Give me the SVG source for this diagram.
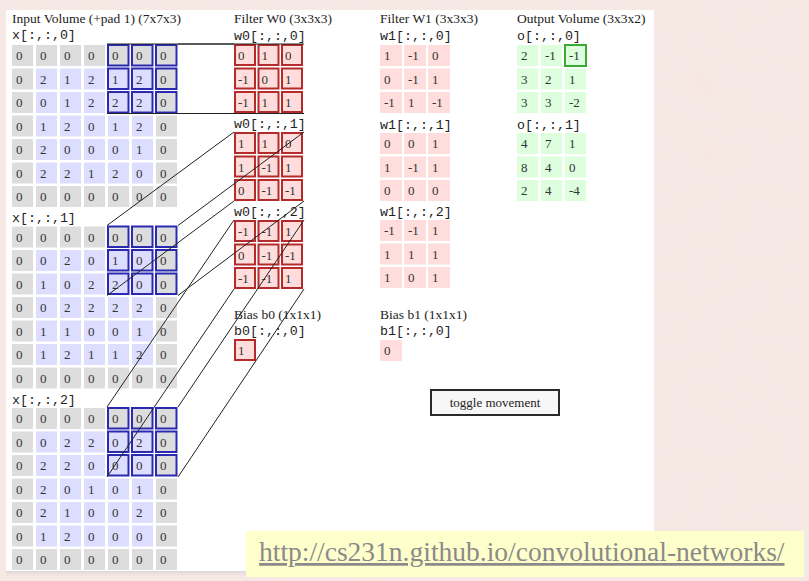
<svg xmlns="http://www.w3.org/2000/svg" width="809" height="581" viewBox="0 0 809 581">
<defs>
<filter id="tex" x="0" y="0" width="100%" height="100%">
<feTurbulence type="fractalNoise" baseFrequency="0.015" numOctaves="3" seed="7"/>
<feColorMatrix type="matrix" values="0 0 0 0 0.91  0 0 0 0 0.78  0 0 0 0 0.74  0.7 0 0 0 -0.22"/>
</filter>
<linearGradient id="shade" x1="0" y1="0" x2="0" y2="1">
<stop offset="0" stop-color="#d9d3d2" stop-opacity="0.8"/>
<stop offset="1" stop-color="#d9d3d2" stop-opacity="0"/>
</linearGradient>
</defs>
<style>
.p{fill:#dddddd}
.i{fill:#ddddff}
.f{fill:#ffdddd}
.o{fill:#ddffdd}
.fr{fill:#ffdddd;stroke:#b52a2a;stroke-width:2}
.hb{fill:none;stroke:#2a2ab0;stroke-width:2}
.hg{fill:none;stroke:#3aaa32;stroke-width:2}
text{font-family:"Liberation Serif","Times New Roman",serif}
.n{font-size:13px;fill:#333}
.t{font-size:13.5px;fill:#222}
.m{font-family:"Liberation Mono","Courier New",monospace;font-size:13.3px;fill:#222}
.c{stroke:#222;stroke-width:1;fill:none}
</style>
<rect width="809" height="581" fill="#f6e9e5"/>
<rect width="809" height="581" filter="url(#tex)"/>
<rect x="6" y="571" width="648" height="5" fill="url(#shade)"/>
<rect x="6" y="10" width="648" height="561" fill="#ffffff"/>

<g id="titles">
<text class="t" x="12" y="23">Input Volume (+pad 1) (7x7x3)</text>
<text class="t" x="234" y="23">Filter W0 (3x3x3)</text>
<text class="t" x="380" y="23">Filter W1 (3x3x3)</text>
<text class="t" x="517" y="23">Output Volume (3x3x2)</text>
</g>

<g id="input-x0">
<text class="m" x="12" y="39">x[:,:,0]</text>
<g transform="translate(12,45)">
<rect class="p" x="0" y="0" width="21" height="21"/><rect class="p" x="24" y="0" width="21" height="21"/><rect class="p" x="48" y="0" width="21" height="21"/><rect class="p" x="72" y="0" width="21" height="21"/><rect class="p" x="96" y="0" width="21" height="21"/><rect class="p" x="120" y="0" width="21" height="21"/><rect class="p" x="144" y="0" width="21" height="21"/>
<rect class="p" x="0" y="23.5" width="21" height="21"/><rect class="i" x="24" y="23.5" width="21" height="21"/><rect class="i" x="48" y="23.5" width="21" height="21"/><rect class="i" x="72" y="23.5" width="21" height="21"/><rect class="i" x="96" y="23.5" width="21" height="21"/><rect class="i" x="120" y="23.5" width="21" height="21"/><rect class="p" x="144" y="23.5" width="21" height="21"/>
<rect class="p" x="0" y="47" width="21" height="21"/><rect class="i" x="24" y="47" width="21" height="21"/><rect class="i" x="48" y="47" width="21" height="21"/><rect class="i" x="72" y="47" width="21" height="21"/><rect class="i" x="96" y="47" width="21" height="21"/><rect class="i" x="120" y="47" width="21" height="21"/><rect class="p" x="144" y="47" width="21" height="21"/>
<rect class="p" x="0" y="70.5" width="21" height="21"/><rect class="i" x="24" y="70.5" width="21" height="21"/><rect class="i" x="48" y="70.5" width="21" height="21"/><rect class="i" x="72" y="70.5" width="21" height="21"/><rect class="i" x="96" y="70.5" width="21" height="21"/><rect class="i" x="120" y="70.5" width="21" height="21"/><rect class="p" x="144" y="70.5" width="21" height="21"/>
<rect class="p" x="0" y="94" width="21" height="21"/><rect class="i" x="24" y="94" width="21" height="21"/><rect class="i" x="48" y="94" width="21" height="21"/><rect class="i" x="72" y="94" width="21" height="21"/><rect class="i" x="96" y="94" width="21" height="21"/><rect class="i" x="120" y="94" width="21" height="21"/><rect class="p" x="144" y="94" width="21" height="21"/>
<rect class="p" x="0" y="117.5" width="21" height="21"/><rect class="i" x="24" y="117.5" width="21" height="21"/><rect class="i" x="48" y="117.5" width="21" height="21"/><rect class="i" x="72" y="117.5" width="21" height="21"/><rect class="i" x="96" y="117.5" width="21" height="21"/><rect class="i" x="120" y="117.5" width="21" height="21"/><rect class="p" x="144" y="117.5" width="21" height="21"/>
<rect class="p" x="0" y="141" width="21" height="21"/><rect class="p" x="24" y="141" width="21" height="21"/><rect class="p" x="48" y="141" width="21" height="21"/><rect class="p" x="72" y="141" width="21" height="21"/><rect class="p" x="96" y="141" width="21" height="21"/><rect class="p" x="120" y="141" width="21" height="21"/><rect class="p" x="144" y="141" width="21" height="21"/>
<rect class="hb" x="96" y="0" width="20.5" height="20.5"/><rect class="hb" x="120" y="0" width="20.5" height="20.5"/><rect class="hb" x="144" y="0" width="20.5" height="20.5"/>
<rect class="hb" x="96" y="23.5" width="20.5" height="20.5"/><rect class="hb" x="120" y="23.5" width="20.5" height="20.5"/><rect class="hb" x="144" y="23.5" width="20.5" height="20.5"/>
<rect class="hb" x="96" y="47" width="20.5" height="20.5"/><rect class="hb" x="120" y="47" width="20.5" height="20.5"/><rect class="hb" x="144" y="47" width="20.5" height="20.5"/>
<text class="n" x="4" y="15">0</text><text class="n" x="28" y="15">0</text><text class="n" x="52" y="15">0</text><text class="n" x="76" y="15">0</text><text class="n" x="100" y="15">0</text><text class="n" x="124" y="15">0</text><text class="n" x="148" y="15">0</text>
<text class="n" x="4" y="38.5">0</text><text class="n" x="28" y="38.5">2</text><text class="n" x="52" y="38.5">1</text><text class="n" x="76" y="38.5">2</text><text class="n" x="100" y="38.5">1</text><text class="n" x="124" y="38.5">2</text><text class="n" x="148" y="38.5">0</text>
<text class="n" x="4" y="62">0</text><text class="n" x="28" y="62">0</text><text class="n" x="52" y="62">1</text><text class="n" x="76" y="62">2</text><text class="n" x="100" y="62">2</text><text class="n" x="124" y="62">2</text><text class="n" x="148" y="62">0</text>
<text class="n" x="4" y="85.5">0</text><text class="n" x="28" y="85.5">1</text><text class="n" x="52" y="85.5">2</text><text class="n" x="76" y="85.5">0</text><text class="n" x="100" y="85.5">1</text><text class="n" x="124" y="85.5">2</text><text class="n" x="148" y="85.5">0</text>
<text class="n" x="4" y="109">0</text><text class="n" x="28" y="109">2</text><text class="n" x="52" y="109">0</text><text class="n" x="76" y="109">0</text><text class="n" x="100" y="109">0</text><text class="n" x="124" y="109">1</text><text class="n" x="148" y="109">0</text>
<text class="n" x="4" y="132.5">0</text><text class="n" x="28" y="132.5">2</text><text class="n" x="52" y="132.5">2</text><text class="n" x="76" y="132.5">1</text><text class="n" x="100" y="132.5">2</text><text class="n" x="124" y="132.5">0</text><text class="n" x="148" y="132.5">0</text>
<text class="n" x="4" y="156">0</text><text class="n" x="28" y="156">0</text><text class="n" x="52" y="156">0</text><text class="n" x="76" y="156">0</text><text class="n" x="100" y="156">0</text><text class="n" x="124" y="156">0</text><text class="n" x="148" y="156">0</text>
</g>
</g>

<g id="input-x1">
<text class="m" x="12" y="222">x[:,:,1]</text>
<g transform="translate(12,226.5)">
<rect class="p" x="0" y="0" width="21" height="21"/><rect class="p" x="24" y="0" width="21" height="21"/><rect class="p" x="48" y="0" width="21" height="21"/><rect class="p" x="72" y="0" width="21" height="21"/><rect class="p" x="96" y="0" width="21" height="21"/><rect class="p" x="120" y="0" width="21" height="21"/><rect class="p" x="144" y="0" width="21" height="21"/>
<rect class="p" x="0" y="23.5" width="21" height="21"/><rect class="i" x="24" y="23.5" width="21" height="21"/><rect class="i" x="48" y="23.5" width="21" height="21"/><rect class="i" x="72" y="23.5" width="21" height="21"/><rect class="i" x="96" y="23.5" width="21" height="21"/><rect class="i" x="120" y="23.5" width="21" height="21"/><rect class="p" x="144" y="23.5" width="21" height="21"/>
<rect class="p" x="0" y="47" width="21" height="21"/><rect class="i" x="24" y="47" width="21" height="21"/><rect class="i" x="48" y="47" width="21" height="21"/><rect class="i" x="72" y="47" width="21" height="21"/><rect class="i" x="96" y="47" width="21" height="21"/><rect class="i" x="120" y="47" width="21" height="21"/><rect class="p" x="144" y="47" width="21" height="21"/>
<rect class="p" x="0" y="70.5" width="21" height="21"/><rect class="i" x="24" y="70.5" width="21" height="21"/><rect class="i" x="48" y="70.5" width="21" height="21"/><rect class="i" x="72" y="70.5" width="21" height="21"/><rect class="i" x="96" y="70.5" width="21" height="21"/><rect class="i" x="120" y="70.5" width="21" height="21"/><rect class="p" x="144" y="70.5" width="21" height="21"/>
<rect class="p" x="0" y="94" width="21" height="21"/><rect class="i" x="24" y="94" width="21" height="21"/><rect class="i" x="48" y="94" width="21" height="21"/><rect class="i" x="72" y="94" width="21" height="21"/><rect class="i" x="96" y="94" width="21" height="21"/><rect class="i" x="120" y="94" width="21" height="21"/><rect class="p" x="144" y="94" width="21" height="21"/>
<rect class="p" x="0" y="117.5" width="21" height="21"/><rect class="i" x="24" y="117.5" width="21" height="21"/><rect class="i" x="48" y="117.5" width="21" height="21"/><rect class="i" x="72" y="117.5" width="21" height="21"/><rect class="i" x="96" y="117.5" width="21" height="21"/><rect class="i" x="120" y="117.5" width="21" height="21"/><rect class="p" x="144" y="117.5" width="21" height="21"/>
<rect class="p" x="0" y="141" width="21" height="21"/><rect class="p" x="24" y="141" width="21" height="21"/><rect class="p" x="48" y="141" width="21" height="21"/><rect class="p" x="72" y="141" width="21" height="21"/><rect class="p" x="96" y="141" width="21" height="21"/><rect class="p" x="120" y="141" width="21" height="21"/><rect class="p" x="144" y="141" width="21" height="21"/>
<rect class="hb" x="96" y="0" width="20.5" height="20.5"/><rect class="hb" x="120" y="0" width="20.5" height="20.5"/><rect class="hb" x="144" y="0" width="20.5" height="20.5"/>
<rect class="hb" x="96" y="23.5" width="20.5" height="20.5"/><rect class="hb" x="120" y="23.5" width="20.5" height="20.5"/><rect class="hb" x="144" y="23.5" width="20.5" height="20.5"/>
<rect class="hb" x="96" y="47" width="20.5" height="20.5"/><rect class="hb" x="120" y="47" width="20.5" height="20.5"/><rect class="hb" x="144" y="47" width="20.5" height="20.5"/>
<text class="n" x="4" y="15">0</text><text class="n" x="28" y="15">0</text><text class="n" x="52" y="15">0</text><text class="n" x="76" y="15">0</text><text class="n" x="100" y="15">0</text><text class="n" x="124" y="15">0</text><text class="n" x="148" y="15">0</text>
<text class="n" x="4" y="38.5">0</text><text class="n" x="28" y="38.5">0</text><text class="n" x="52" y="38.5">2</text><text class="n" x="76" y="38.5">0</text><text class="n" x="100" y="38.5">1</text><text class="n" x="124" y="38.5">0</text><text class="n" x="148" y="38.5">0</text>
<text class="n" x="4" y="62">0</text><text class="n" x="28" y="62">1</text><text class="n" x="52" y="62">0</text><text class="n" x="76" y="62">2</text><text class="n" x="100" y="62">2</text><text class="n" x="124" y="62">0</text><text class="n" x="148" y="62">0</text>
<text class="n" x="4" y="85.5">0</text><text class="n" x="28" y="85.5">0</text><text class="n" x="52" y="85.5">2</text><text class="n" x="76" y="85.5">2</text><text class="n" x="100" y="85.5">2</text><text class="n" x="124" y="85.5">2</text><text class="n" x="148" y="85.5">0</text>
<text class="n" x="4" y="109">0</text><text class="n" x="28" y="109">1</text><text class="n" x="52" y="109">1</text><text class="n" x="76" y="109">0</text><text class="n" x="100" y="109">0</text><text class="n" x="124" y="109">1</text><text class="n" x="148" y="109">0</text>
<text class="n" x="4" y="132.5">0</text><text class="n" x="28" y="132.5">1</text><text class="n" x="52" y="132.5">2</text><text class="n" x="76" y="132.5">1</text><text class="n" x="100" y="132.5">1</text><text class="n" x="124" y="132.5">2</text><text class="n" x="148" y="132.5">0</text>
<text class="n" x="4" y="156">0</text><text class="n" x="28" y="156">0</text><text class="n" x="52" y="156">0</text><text class="n" x="76" y="156">0</text><text class="n" x="100" y="156">0</text><text class="n" x="124" y="156">0</text><text class="n" x="148" y="156">0</text>
</g>
</g>

<g id="input-x2">
<text class="m" x="12" y="403.5">x[:,:,2]</text>
<g transform="translate(12,408)">
<rect class="p" x="0" y="0" width="21" height="21"/><rect class="p" x="24" y="0" width="21" height="21"/><rect class="p" x="48" y="0" width="21" height="21"/><rect class="p" x="72" y="0" width="21" height="21"/><rect class="p" x="96" y="0" width="21" height="21"/><rect class="p" x="120" y="0" width="21" height="21"/><rect class="p" x="144" y="0" width="21" height="21"/>
<rect class="p" x="0" y="23.5" width="21" height="21"/><rect class="i" x="24" y="23.5" width="21" height="21"/><rect class="i" x="48" y="23.5" width="21" height="21"/><rect class="i" x="72" y="23.5" width="21" height="21"/><rect class="i" x="96" y="23.5" width="21" height="21"/><rect class="i" x="120" y="23.5" width="21" height="21"/><rect class="p" x="144" y="23.5" width="21" height="21"/>
<rect class="p" x="0" y="47" width="21" height="21"/><rect class="i" x="24" y="47" width="21" height="21"/><rect class="i" x="48" y="47" width="21" height="21"/><rect class="i" x="72" y="47" width="21" height="21"/><rect class="i" x="96" y="47" width="21" height="21"/><rect class="i" x="120" y="47" width="21" height="21"/><rect class="p" x="144" y="47" width="21" height="21"/>
<rect class="p" x="0" y="70.5" width="21" height="21"/><rect class="i" x="24" y="70.5" width="21" height="21"/><rect class="i" x="48" y="70.5" width="21" height="21"/><rect class="i" x="72" y="70.5" width="21" height="21"/><rect class="i" x="96" y="70.5" width="21" height="21"/><rect class="i" x="120" y="70.5" width="21" height="21"/><rect class="p" x="144" y="70.5" width="21" height="21"/>
<rect class="p" x="0" y="94" width="21" height="21"/><rect class="i" x="24" y="94" width="21" height="21"/><rect class="i" x="48" y="94" width="21" height="21"/><rect class="i" x="72" y="94" width="21" height="21"/><rect class="i" x="96" y="94" width="21" height="21"/><rect class="i" x="120" y="94" width="21" height="21"/><rect class="p" x="144" y="94" width="21" height="21"/>
<rect class="p" x="0" y="117.5" width="21" height="21"/><rect class="i" x="24" y="117.5" width="21" height="21"/><rect class="i" x="48" y="117.5" width="21" height="21"/><rect class="i" x="72" y="117.5" width="21" height="21"/><rect class="i" x="96" y="117.5" width="21" height="21"/><rect class="i" x="120" y="117.5" width="21" height="21"/><rect class="p" x="144" y="117.5" width="21" height="21"/>
<rect class="p" x="0" y="141" width="21" height="21"/><rect class="p" x="24" y="141" width="21" height="21"/><rect class="p" x="48" y="141" width="21" height="21"/><rect class="p" x="72" y="141" width="21" height="21"/><rect class="p" x="96" y="141" width="21" height="21"/><rect class="p" x="120" y="141" width="21" height="21"/><rect class="p" x="144" y="141" width="21" height="21"/>
<rect class="hb" x="96" y="0" width="20.5" height="20.5"/><rect class="hb" x="120" y="0" width="20.5" height="20.5"/><rect class="hb" x="144" y="0" width="20.5" height="20.5"/>
<rect class="hb" x="96" y="23.5" width="20.5" height="20.5"/><rect class="hb" x="120" y="23.5" width="20.5" height="20.5"/><rect class="hb" x="144" y="23.5" width="20.5" height="20.5"/>
<rect class="hb" x="96" y="47" width="20.5" height="20.5"/><rect class="hb" x="120" y="47" width="20.5" height="20.5"/><rect class="hb" x="144" y="47" width="20.5" height="20.5"/>
<text class="n" x="4" y="15">0</text><text class="n" x="28" y="15">0</text><text class="n" x="52" y="15">0</text><text class="n" x="76" y="15">0</text><text class="n" x="100" y="15">0</text><text class="n" x="124" y="15">0</text><text class="n" x="148" y="15">0</text>
<text class="n" x="4" y="38.5">0</text><text class="n" x="28" y="38.5">0</text><text class="n" x="52" y="38.5">2</text><text class="n" x="76" y="38.5">2</text><text class="n" x="100" y="38.5">0</text><text class="n" x="124" y="38.5">2</text><text class="n" x="148" y="38.5">0</text>
<text class="n" x="4" y="62">0</text><text class="n" x="28" y="62">2</text><text class="n" x="52" y="62">2</text><text class="n" x="76" y="62">0</text><text class="n" x="100" y="62">0</text><text class="n" x="124" y="62">0</text><text class="n" x="148" y="62">0</text>
<text class="n" x="4" y="85.5">0</text><text class="n" x="28" y="85.5">2</text><text class="n" x="52" y="85.5">0</text><text class="n" x="76" y="85.5">1</text><text class="n" x="100" y="85.5">0</text><text class="n" x="124" y="85.5">1</text><text class="n" x="148" y="85.5">0</text>
<text class="n" x="4" y="109">0</text><text class="n" x="28" y="109">2</text><text class="n" x="52" y="109">1</text><text class="n" x="76" y="109">0</text><text class="n" x="100" y="109">0</text><text class="n" x="124" y="109">2</text><text class="n" x="148" y="109">0</text>
<text class="n" x="4" y="132.5">0</text><text class="n" x="28" y="132.5">1</text><text class="n" x="52" y="132.5">2</text><text class="n" x="76" y="132.5">0</text><text class="n" x="100" y="132.5">0</text><text class="n" x="124" y="132.5">0</text><text class="n" x="148" y="132.5">0</text>
<text class="n" x="4" y="156">0</text><text class="n" x="28" y="156">0</text><text class="n" x="52" y="156">0</text><text class="n" x="76" y="156">0</text><text class="n" x="100" y="156">0</text><text class="n" x="124" y="156">0</text><text class="n" x="148" y="156">0</text>
</g>
</g>

<g id="filter-w0-0">
<text class="m" x="234" y="40">w0[:,:,0]</text>
<g transform="translate(234,44)">
<rect class="fr" x="1" y="1" width="20" height="20"/><rect class="fr" x="24.5" y="1" width="20" height="20"/><rect class="fr" x="48" y="1" width="20" height="20"/>
<rect class="fr" x="1" y="24.5" width="20" height="20"/><rect class="fr" x="24.5" y="24.5" width="20" height="20"/><rect class="fr" x="48" y="24.5" width="20" height="20"/>
<rect class="fr" x="1" y="48" width="20" height="20"/><rect class="fr" x="24.5" y="48" width="20" height="20"/><rect class="fr" x="48" y="48" width="20" height="20"/>
<text class="n" x="4" y="16">0</text><text class="n" x="27.5" y="16">1</text><text class="n" x="51" y="16">0</text>
<text class="n" x="4" y="39.5">-1</text><text class="n" x="27.5" y="39.5">0</text><text class="n" x="51" y="39.5">1</text>
<text class="n" x="4" y="63">-1</text><text class="n" x="27.5" y="63">1</text><text class="n" x="51" y="63">1</text>
</g>
</g>

<g id="filter-w0-1">
<text class="m" x="234" y="128">w0[:,:,1]</text>
<g transform="translate(234,132)">
<rect class="fr" x="1" y="1" width="20" height="20"/><rect class="fr" x="24.5" y="1" width="20" height="20"/><rect class="fr" x="48" y="1" width="20" height="20"/>
<rect class="fr" x="1" y="24.5" width="20" height="20"/><rect class="fr" x="24.5" y="24.5" width="20" height="20"/><rect class="fr" x="48" y="24.5" width="20" height="20"/>
<rect class="fr" x="1" y="48" width="20" height="20"/><rect class="fr" x="24.5" y="48" width="20" height="20"/><rect class="fr" x="48" y="48" width="20" height="20"/>
<text class="n" x="4" y="16">1</text><text class="n" x="27.5" y="16">1</text><text class="n" x="51" y="16">0</text>
<text class="n" x="4" y="39.5">1</text><text class="n" x="27.5" y="39.5">-1</text><text class="n" x="51" y="39.5">1</text>
<text class="n" x="4" y="63">0</text><text class="n" x="27.5" y="63">-1</text><text class="n" x="51" y="63">-1</text>
</g>
</g>

<g id="filter-w0-2">
<text class="m" x="234" y="216">w0[:,:,2]</text>
<g transform="translate(234,220)">
<rect class="fr" x="1" y="1" width="20" height="20"/><rect class="fr" x="24.5" y="1" width="20" height="20"/><rect class="fr" x="48" y="1" width="20" height="20"/>
<rect class="fr" x="1" y="24.5" width="20" height="20"/><rect class="fr" x="24.5" y="24.5" width="20" height="20"/><rect class="fr" x="48" y="24.5" width="20" height="20"/>
<rect class="fr" x="1" y="48" width="20" height="20"/><rect class="fr" x="24.5" y="48" width="20" height="20"/><rect class="fr" x="48" y="48" width="20" height="20"/>
<text class="n" x="4" y="16">-1</text><text class="n" x="27.5" y="16">-1</text><text class="n" x="51" y="16">1</text>
<text class="n" x="4" y="39.5">0</text><text class="n" x="27.5" y="39.5">-1</text><text class="n" x="51" y="39.5">-1</text>
<text class="n" x="4" y="63">-1</text><text class="n" x="27.5" y="63">-1</text><text class="n" x="51" y="63">1</text>
</g>
</g>

<g id="bias-b0">
<text class="t" x="234" y="319">Bias b0 (1x1x1)</text>
<text class="m" x="234" y="335">b0[:,:,0]</text>
<rect class="fr" x="235" y="340" width="20" height="20"/>
<text class="n" x="238" y="355">1</text>
</g>

<g id="filter-w1-0">
<text class="m" x="380" y="40">w1[:,:,0]</text>
<g transform="translate(380,45)">
<rect class="f" x="0" y="0" width="22" height="21"/><rect class="f" x="24" y="0" width="22" height="21"/><rect class="f" x="48" y="0" width="22" height="21"/>
<rect class="f" x="0" y="23.5" width="22" height="21"/><rect class="f" x="24" y="23.5" width="22" height="21"/><rect class="f" x="48" y="23.5" width="22" height="21"/>
<rect class="f" x="0" y="47" width="22" height="21"/><rect class="f" x="24" y="47" width="22" height="21"/><rect class="f" x="48" y="47" width="22" height="21"/>
<text class="n" x="4" y="15">1</text><text class="n" x="28" y="15">-1</text><text class="n" x="52" y="15">0</text>
<text class="n" x="4" y="38.5">0</text><text class="n" x="28" y="38.5">-1</text><text class="n" x="52" y="38.5">1</text>
<text class="n" x="4" y="62">-1</text><text class="n" x="28" y="62">1</text><text class="n" x="52" y="62">-1</text>
</g>
</g>

<g id="filter-w1-1">
<text class="m" x="380" y="129">w1[:,:,1]</text>
<g transform="translate(380,133)">
<rect class="f" x="0" y="0" width="22" height="21"/><rect class="f" x="24" y="0" width="22" height="21"/><rect class="f" x="48" y="0" width="22" height="21"/>
<rect class="f" x="0" y="23.5" width="22" height="21"/><rect class="f" x="24" y="23.5" width="22" height="21"/><rect class="f" x="48" y="23.5" width="22" height="21"/>
<rect class="f" x="0" y="47" width="22" height="21"/><rect class="f" x="24" y="47" width="22" height="21"/><rect class="f" x="48" y="47" width="22" height="21"/>
<text class="n" x="4" y="15">0</text><text class="n" x="28" y="15">0</text><text class="n" x="52" y="15">1</text>
<text class="n" x="4" y="38.5">1</text><text class="n" x="28" y="38.5">-1</text><text class="n" x="52" y="38.5">1</text>
<text class="n" x="4" y="62">0</text><text class="n" x="28" y="62">0</text><text class="n" x="52" y="62">0</text>
</g>
</g>

<g id="filter-w1-2">
<text class="m" x="380" y="216">w1[:,:,2]</text>
<g transform="translate(380,220)">
<rect class="f" x="0" y="0" width="22" height="21"/><rect class="f" x="24" y="0" width="22" height="21"/><rect class="f" x="48" y="0" width="22" height="21"/>
<rect class="f" x="0" y="23.5" width="22" height="21"/><rect class="f" x="24" y="23.5" width="22" height="21"/><rect class="f" x="48" y="23.5" width="22" height="21"/>
<rect class="f" x="0" y="47" width="22" height="21"/><rect class="f" x="24" y="47" width="22" height="21"/><rect class="f" x="48" y="47" width="22" height="21"/>
<text class="n" x="4" y="15">-1</text><text class="n" x="28" y="15">-1</text><text class="n" x="52" y="15">1</text>
<text class="n" x="4" y="38.5">1</text><text class="n" x="28" y="38.5">1</text><text class="n" x="52" y="38.5">1</text>
<text class="n" x="4" y="62">1</text><text class="n" x="28" y="62">0</text><text class="n" x="52" y="62">1</text>
</g>
</g>

<g id="bias-b1">
<text class="t" x="380" y="319">Bias b1 (1x1x1)</text>
<text class="m" x="380" y="335">b1[:,:,0]</text>
<rect class="f" x="380" y="340" width="22" height="21"/>
<text class="n" x="384" y="355">0</text>
</g>

<g id="output-o0">
<text class="m" x="517" y="40">o[:,:,0]</text>
<g transform="translate(517,45)">
<rect class="o" x="0" y="0" width="21" height="21"/><rect class="o" x="24" y="0" width="21" height="21"/><rect class="o" x="48" y="0" width="21" height="21"/>
<rect class="o" x="0" y="23.5" width="21" height="21"/><rect class="o" x="24" y="23.5" width="21" height="21"/><rect class="o" x="48" y="23.5" width="21" height="21"/>
<rect class="o" x="0" y="47" width="21" height="21"/><rect class="o" x="24" y="47" width="21" height="21"/><rect class="o" x="48" y="47" width="21" height="21"/>
<rect class="hg" x="48" y="0" width="21" height="21"/>
<text class="n" x="4" y="15">2</text><text class="n" x="28" y="15">-1</text><text class="n" x="52" y="15">-1</text>
<text class="n" x="4" y="38.5">3</text><text class="n" x="28" y="38.5">2</text><text class="n" x="52" y="38.5">1</text>
<text class="n" x="4" y="62">3</text><text class="n" x="28" y="62">3</text><text class="n" x="52" y="62">-2</text>
</g>
</g>

<g id="output-o1">
<text class="m" x="517" y="129">o[:,:,1]</text>
<g transform="translate(517,133)">
<rect class="o" x="0" y="0" width="21" height="21"/><rect class="o" x="24" y="0" width="21" height="21"/><rect class="o" x="48" y="0" width="21" height="21"/>
<rect class="o" x="0" y="23.5" width="21" height="21"/><rect class="o" x="24" y="23.5" width="21" height="21"/><rect class="o" x="48" y="23.5" width="21" height="21"/>
<rect class="o" x="0" y="47" width="21" height="21"/><rect class="o" x="24" y="47" width="21" height="21"/><rect class="o" x="48" y="47" width="21" height="21"/>
<text class="n" x="4" y="15">4</text><text class="n" x="28" y="15">7</text><text class="n" x="52" y="15">1</text>
<text class="n" x="4" y="38.5">8</text><text class="n" x="28" y="38.5">4</text><text class="n" x="52" y="38.5">0</text>
<text class="n" x="4" y="62">2</text><text class="n" x="28" y="62">4</text><text class="n" x="52" y="62">-4</text>
</g>
</g>

<g id="toggle-button">
<rect x="431" y="390" width="128" height="25" fill="#f7f7f7" stroke="#2a2a2a" stroke-width="2"/>
<text class="n" x="495" y="407" text-anchor="middle" style="fill:#222">toggle movement</text>
</g>

<g id="connectors">
<line class="c" x1="107" y1="44" x2="234" y2="44"/>
<line class="c" x1="178" y1="44" x2="304" y2="44"/>
<line class="c" x1="107" y1="113.5" x2="234" y2="113.5"/>
<line class="c" x1="178" y1="113.5" x2="304" y2="113.5"/>
<line class="c" x1="107" y1="225.5" x2="234" y2="132"/>
<line class="c" x1="178" y1="225.5" x2="304" y2="132"/>
<line class="c" x1="107" y1="295.5" x2="234" y2="201"/>
<line class="c" x1="178" y1="295.5" x2="304" y2="201"/>
<line class="c" x1="107" y1="407" x2="234" y2="220"/>
<line class="c" x1="178" y1="407" x2="304" y2="220"/>
<line class="c" x1="107" y1="477" x2="234" y2="289"/>
<line class="c" x1="178" y1="477" x2="304" y2="289"/>
</g>

<g id="url">
<rect x="246" y="531" width="558" height="46" fill="#ffffcc"/>
<text x="259" y="561" style="font-size:27.5px;fill:#8a8a8a;text-decoration:underline">http://cs231n.github.io/convolutional-networks/</text>
</g>
</svg>
